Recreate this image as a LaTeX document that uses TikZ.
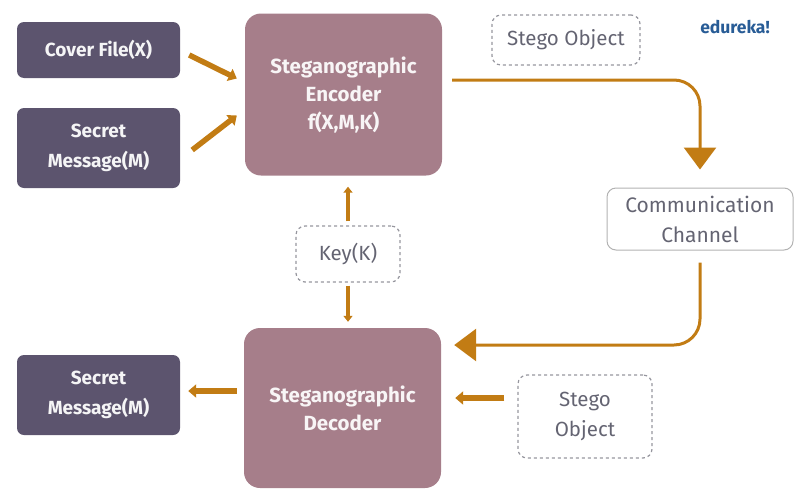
\documentclass[tikz,border=0pt]{standalone}
\usepackage{fontspec}
\setmainfont{Fira Sans}
\usetikzlibrary{arrows.meta, calc, positioning}

\definecolor{boxdark}{RGB}{92,84,110}
\definecolor{boxmauve}{RGB}{166,126,138}
\definecolor{flow}{RGB}{194,124,20}
\definecolor{dashgrey}{RGB}{150,150,158}
\definecolor{textgrey}{RGB}{100,100,114}
\definecolor{brandblue}{RGB}{40,92,150}

\begin{document}
\begin{tikzpicture}[x=1pt, y=-1pt,
  darkbox/.style={fill=boxdark, rounded corners=7pt, text=white!94!boxdark, align=center,
    font=\bfseries\fontsize{19}{30}\selectfont, minimum width=163pt},
  coder/.style={fill=boxmauve, rounded corners=16pt, text=white!92!boxmauve, align=center,
    font=\bfseries\fontsize{20.5}{28}\selectfont, minimum width=197pt},
  dashbox/.style={draw=dashgrey, dashed, line width=1.2pt, rounded corners=9pt, text=textgrey,
    align=center, font=\fontsize{20.5}{30}\selectfont},
  fat/.style={draw=flow, line width=5.5pt, -{Triangle[width=13pt,length=8pt]}},
  keyarrow/.style={draw=flow, line width=3.5pt, -{Triangle[width=9pt,length=6pt]}},
  flowline/.style={draw=flow, line width=3pt, rounded corners=26pt, -{Triangle[width=32pt,length=22pt]}}
]
\useasboundingbox (0,0) rectangle (794,490);

% Inputs
\node[darkbox, minimum height=56pt] (cover) at (98.5,50) {Cover File(X)};
\node[darkbox, minimum height=80pt] (msgin) at (98.5,148) {Secret\\Message(M)};

% Encoder and decoder
\node[coder, minimum height=162pt] (enc) at (343.5,94.5) {Steganographic\\Encoder\\f(X,M,K)};
\node[coder, minimum height=160pt] (dec) at (342.5,408) {Steganographic\\Decoder};

% Key
\node[dashbox, minimum width=104pt, minimum height=56pt] (key) at (348,254) {Key(K)};

% Channel side
\node[dashbox, minimum width=148pt, minimum height=50pt] (stegoA) at (566,40) {Stego Object};
\node[draw=black!30, line width=1pt, rounded corners=9pt, text=textgrey, align=center,
  font=\fontsize{21}{30}\selectfont, minimum width=186pt, minimum height=62pt] (channel) at (700,219) {Communication\\Channel};
\node[dashbox, minimum width=134pt, minimum height=83pt] (stegoB) at (585,416.5) {Stego\\Object};

% Output
\node[darkbox, minimum height=80pt] (msgout) at (98.5,395) {Secret\\Message(M)};

% Logo
\node[text=brandblue, font=\bfseries\fontsize{17.5}{20}\selectfont] (logo) at (735,27) {edureka!};

% Arrows into the encoder
\draw[fat] ($(cover.east)+(9,5)$) -- ($(enc.west)+(-8,-16)$);
\draw[fat] ($(msgin.east)+(12,2)$) -- ($(enc.west)+(-8,21)$);

% Key arrows
\draw[keyarrow, shorten <=4pt, shorten >=11pt] (key.north) -- (key.north |- enc.south);
\draw[keyarrow, shorten <=3pt, shorten >=6pt] (key.south) -- (key.south |- dec.north);

% Stego path
\draw[flowline, shorten >=18pt] ($(enc.east)+(10,-14.5)$) -| (channel.north);
\draw[flowline, shorten <=12pt] (channel.south) |- ($(dec.east)+(13,-63)$);

% Decoder arrows
\draw[fat] ($(stegoB.west)+(-13,-18.5)$) -- ($(dec.east)+(14,-10)$);
\draw[fat] ($(dec.west)+(-7,-17)$) -- ($(msgout.east)+(8,-4)$);
\end{tikzpicture}
\end{document}
